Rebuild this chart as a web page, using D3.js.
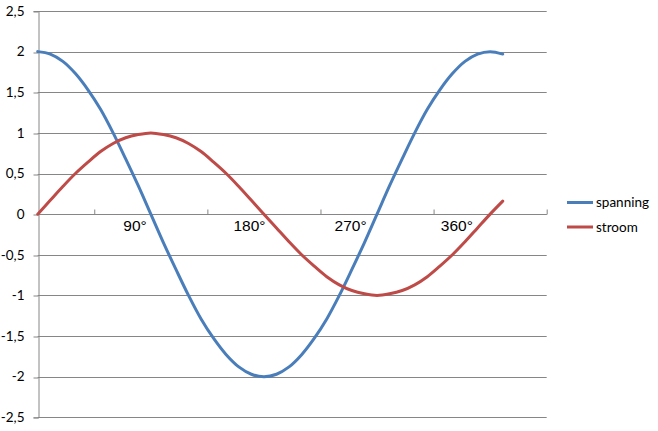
<!DOCTYPE html>
<html>
<head>
<meta charset="utf-8">
<script src="https://cdn.jsdelivr.net/npm/d3@7"></script>
<style>
  html, body { margin: 0; padding: 0; background: #fff; }
  svg { display: block; }
</style>
</head>
<body>
<svg id="chart" width="658" height="431"></svg>
<script>
// ---- data ----
const angles = d3.range(0, 371, 10); // degrees, category positions 0..370
const spanning = [2, 1.97, 1.88, 1.73, 1.53, 1.29, 1, 0.68, 0.35, 0,
  -0.35, -0.68, -1, -1.29, -1.53, -1.73, -1.88, -1.97, -2,
  -1.97, -1.88, -1.73, -1.53, -1.29, -1, -0.68, -0.35, 0,
  0.35, 0.68, 1, 1.29, 1.53, 1.73, 1.88, 1.97, 2, 1.97];
const stroom = [0, 0.17, 0.34, 0.5, 0.64, 0.77, 0.87, 0.94, 0.98, 1,
  0.98, 0.94, 0.87, 0.77, 0.64, 0.5, 0.34, 0.17, 0,
  -0.17, -0.34, -0.5, -0.64, -0.77, -0.87, -0.94, -0.98, -1,
  -0.98, -0.94, -0.87, -0.77, -0.64, -0.5, -0.34, -0.17, 0, 0.16];
const yTicks = [-2.5, -2, -1.5, -1, -0.5, 0, 0.5, 1, 1.5, 2, 2.5];
const xTicks = [45, 135, 225, 315, 405];
const angleLabels = ["90°", "180°", "270°", "360°"];
const seriesNames = ["spanning", "stroom"];
const colors = ["#4A7EBB", "#BE4B48"];

// ---- layout ----
const svg = d3.select("#chart");
const x = d3.scaleLinear().domain([0, 405]).range([37.7, 546.7]);
const y = d3.scaleLinear().domain([-2.5, 2.5]).range([417.3, 11]);
const gridColor = "#868686";
const tickFont = "Lato, 'Open Sans', sans-serif";

// horizontal gridlines
svg.append("g").selectAll("line").data(yTicks).join("line")
  .attr("x1", x(0)).attr("x2", x(405))
  .attr("y1", d => Math.round(y(d)) + 0.5).attr("y2", d => Math.round(y(d)) + 0.5)
  .attr("stroke", gridColor).attr("stroke-width", 1);

// y axis
const yAxis = d3.axisLeft(y).tickValues(yTicks).tickSize(5).tickPadding(9)
  .tickFormat(d => String(d).replace(".", ","));
const gy = svg.append("g").attr("transform", `translate(${Math.round(x(0)) + 0.5},0)`).call(yAxis);
gy.select(".domain").attr("stroke", gridColor);
gy.selectAll(".tick line").attr("stroke", gridColor)
  .attr("transform", function(d){ return `translate(0,${Math.round(y(d)) + 0.5 - y(d)})`; });
gy.selectAll(".tick text").attr("font-family", tickFont).attr("font-size", 13.5).attr("fill", "#000");

// x axis at y = 0 with ticks pointing up
const xAxis = d3.axisTop(x).tickValues(xTicks).tickSize(5).tickFormat("");
const gx = svg.append("g").attr("transform", `translate(0,${Math.round(y(0)) + 0.5})`).call(xAxis);
gx.select(".domain").attr("stroke", gridColor).attr("d", `M${x(0)},0H${x(405)}`);
gx.selectAll(".tick line").attr("stroke", gridColor);

// angle labels (text boxes below the axis)
const labelAngle = [77.5, 168.5, 249, 333.5];
svg.append("g").selectAll("text").data(angleLabels).join("text")
  .attr("x", (d, i) => x(labelAngle[i]))
  .attr("y", y(0) + 17)
  .attr("text-anchor", "middle")
  .attr("font-family", "'Liberation Sans', Arial, sans-serif")
  .attr("font-size", 15.5)
  .attr("fill", "#000")
  .text(d => d);

// lines (smoothed, as in the original)
const line = d3.line().x((d, i) => x(angles[i])).y(d => y(d)).curve(d3.curveCatmullRom.alpha(0.5));
[spanning, stroom].forEach((s, k) => {
  svg.append("path").datum(s)
    .attr("d", line)
    .attr("fill", "none")
    .attr("stroke", colors[k])
    .attr("stroke-width", 3)
    .attr("stroke-linejoin", "round")
    .attr("stroke-linecap", "round");
});

// legend
const legend = svg.append("g");
seriesNames.forEach((name, k) => {
  const ly = 202.5 + k * 24.5;
  legend.append("line").attr("x1", 567).attr("x2", 593).attr("y1", ly).attr("y2", ly)
    .attr("stroke", colors[k]).attr("stroke-width", 3);
  legend.append("text").attr("x", 596).attr("y", ly).attr("dy", "0.35em")
    .attr("font-family", tickFont).attr("font-size", 13.5).attr("fill", "#000")
    .text(name);
});
</script>
</body>
</html>
